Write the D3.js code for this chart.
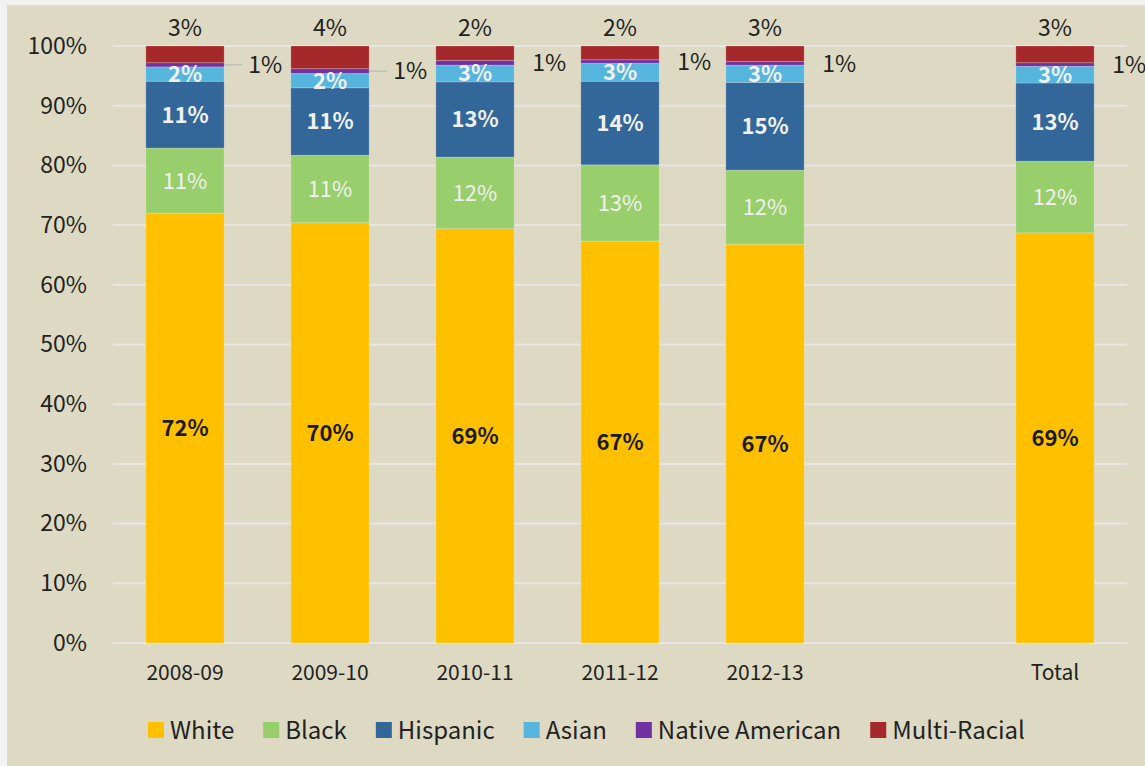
<!DOCTYPE html>
<html>
<head>
<meta charset="utf-8">
<script src="https://cdn.jsdelivr.net/npm/d3@7"></script>
<style>
  body { margin: 0; background: #fff; }
  svg { display: block; }
  text { font-family: "Noto Sans CJK SC", "Source Sans Pro", "Noto Sans", sans-serif; }
</style>
</head>
<body>
<svg id="chart"></svg>
<script>
// categories (the empty slot keeps the gap before "Total")
const slots = ["2008-09", "2009-10", "2010-11", "2011-12", "2012-13", "gap", "Total"];
const categories = ["2008-09", "2009-10", "2010-11", "2011-12", "2012-13", "Total"];

// share of students, percent
const white    = [72.0, 70.4, 69.4, 67.3, 66.8, 68.7];
const black    = [10.9, 11.3, 12.0, 12.8, 12.4, 12.0];
const hispanic = [11.2, 11.3, 12.6, 14.0, 14.7, 13.1];
const asian    = [2.4, 2.4, 2.8, 3.0, 2.9, 2.8];
const native   = [0.7, 0.8, 0.8, 0.6, 0.6, 0.6];
const multi    = [2.8, 3.8, 2.4, 2.3, 2.6, 2.8];

const seriesNames = ["White", "Black", "Hispanic", "Asian", "Native American", "Multi-Racial"];
const yTicks = [0, 10, 20, 30, 40, 50, 60, 70, 80, 90, 100];

const colors = {
  "White": "#FFC000",
  "Black": "#98CE6B",
  "Hispanic": "#346799",
  "Asian": "#56B5DC",
  "Native American": "#7131A0",
  "Multi-Racial": "#A5292A"
};

const view = { width: 1145, height: 766 };

const rows = categories.map((c, i) => ({
  cat: c,
  "White": white[i],
  "Black": black[i],
  "Hispanic": hispanic[i],
  "Asian": asian[i],
  "Native American": native[i],
  "Multi-Racial": multi[i]
}));

const svg = d3.select("#chart")
  .attr("width", view.width)
  .attr("height", view.height);

// page frame: light strip at top/left, beige panel
svg.append("rect").attr("width", view.width).attr("height", view.height).attr("fill", "#F2F2F2");
svg.append("rect")
  .attr("x", 7).attr("y", 5)
  .attr("width", view.width - 7).attr("height", view.height - 5)
  .attr("fill", "#DDD9C3");

const x = d3.scaleBand()
  .domain(slots)
  .range([112.5, 1127.5])
  .paddingInner(0.46)
  .paddingOuter(0.23);

const y = d3.scaleLinear()
  .domain([0, 100])
  .range([643, 46]);

// gridlines
svg.append("g")
  .selectAll("line")
  .data(yTicks)
  .join("line")
  .attr("x1", 112.5).attr("x2", 1127.5)
  .attr("y1", d => y(d)).attr("y2", d => y(d))
  .attr("stroke", "#E6E6E4")
  .attr("stroke-width", 2);

// y axis labels
const yAxis = svg.append("g")
  .attr("transform", "translate(100,0)")
  .call(d3.axisLeft(y).tickValues(yTicks).tickFormat(d => d + "%").tickSize(0).tickPadding(13));
yAxis.select(".domain").remove();
yAxis.selectAll("text")
  .attr("font-family", null)
  .style("font-size", "23px")
  .attr("fill", "#222");

// x axis labels
const xAxis = svg.append("g")
  .attr("transform", "translate(0,643)")
  .call(d3.axisBottom(x).tickFormat(d => d === "gap" ? "" : d).tickSize(0).tickPadding(22));
xAxis.select(".domain").remove();
xAxis.selectAll("text")
  .attr("font-family", null)
  .style("font-size", "21px")
  .attr("fill", "#222");

// stacked bars
const stack = d3.stack().keys(seriesNames);
const stacked = stack(rows);

const layer = svg.append("g")
  .selectAll("g")
  .data(stacked)
  .join("g")
  .attr("fill", d => colors[d.key]);

layer.selectAll("rect")
  .data(d => d)
  .join("rect")
  .attr("x", d => x(d.data.cat))
  .attr("width", x.bandwidth())
  .attr("y", d => y(d[1]))
  .attr("height", d => y(d[0]) - y(d[1]))
  .attr("stroke", "rgba(255,255,255,0.25)")
  .attr("stroke-width", 0.8);

// data labels
const labelStyle = {
  "White": { fill: "#1b1b1b", weight: "bold" },
  "Black": { fill: "#F0F0F0", weight: "normal" },
  "Hispanic": { fill: "#F0F0F0", weight: "bold" },
  "Asian": { fill: "#F0F0F0", weight: "bold" }
};
const pct = v => Math.round(v) + "%";

const labels = svg.append("g");
stacked.forEach(s => {
  s.forEach(d => {
    const v = d[1] - d[0];
    const cx = x(d.data.cat) + x.bandwidth() / 2;
    const cy = y((d[0] + d[1]) / 2);
    if (labelStyle[s.key]) {
      labels.append("text")
        .attr("x", cx).attr("y", cy)
        .attr("dy", "0.36em")
        .attr("text-anchor", "middle")
        .style("font-size", "22px")
        .style("font-weight", labelStyle[s.key].weight)
        .attr("fill", labelStyle[s.key].fill)
        .text(pct(v));
    } else if (s.key === "Native American") {
      const bx = x(d.data.cat) + x.bandwidth();
      const i = categories.indexOf(d.data.cat);
      const off = i < 2 ? 24 : 18;
      if (i < 2) {
        labels.append("line")
          .attr("x1", bx).attr("x2", bx + off - 6)
          .attr("y1", cy).attr("y2", cy)
          .attr("stroke", "#BFBFBF")
          .attr("stroke-width", 1.5);
      }
      labels.append("text")
        .attr("x", bx + off).attr("y", cy)
        .attr("dy", "0.36em")
        .style("font-size", "23px")
        .attr("fill", "#222")
        .text(pct(v));
    } else {
      labels.append("text")
        .attr("x", cx).attr("y", y(100) - 18)
        .attr("dy", "0.36em")
        .attr("text-anchor", "middle")
        .style("font-size", "23px")
        .attr("fill", "#222")
        .text(pct(v));
    }
  });
});

// legend
const legend = svg.append("g").attr("transform", "translate(148,730)");
let lx = 0;
seriesNames.forEach(name => {
  const g = legend.append("g").attr("transform", `translate(${lx},0)`);
  g.append("rect")
    .attr("x", 0).attr("y", -8)
    .attr("width", 16).attr("height", 16)
    .attr("fill", colors[name]);
  const t = g.append("text")
    .attr("x", 22).attr("y", 0)
    .attr("dy", "0.36em")
    .style("font-size", "24px")
    .attr("fill", "#222")
    .text(name);
  lx += 22 + t.node().getComputedTextLength() + 29;
});
</script>
</body>
</html>
